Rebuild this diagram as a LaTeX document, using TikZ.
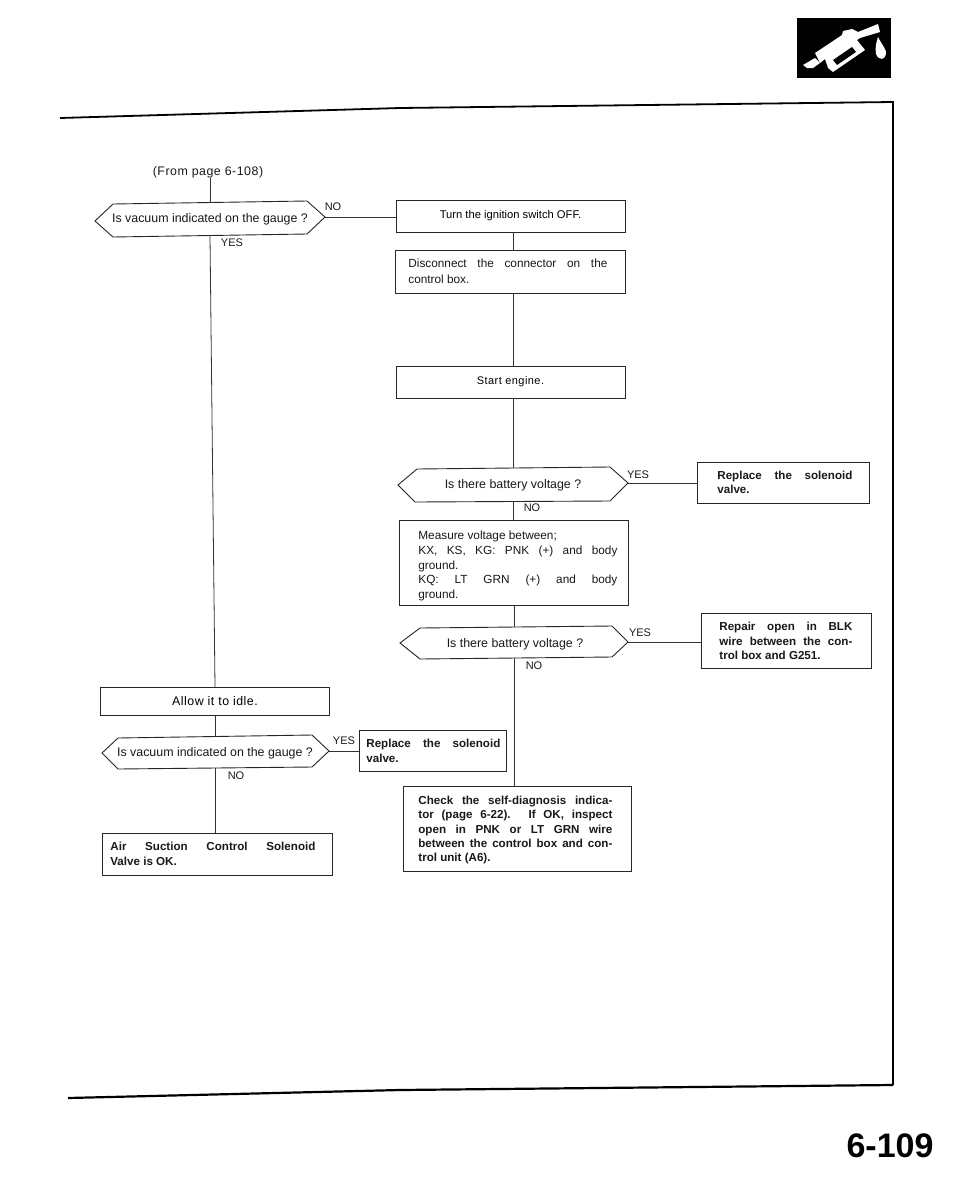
\documentclass[tikz,border=0pt]{standalone}
\usepackage{fontspec}
\setmainfont{Liberation Sans}
\newfontfamily\trk[LetterSpace=4]{Liberation Sans}
\newcommand{\dtxt}{\fontsize{5.9pt}{7.3pt}\selectfont}
\newcommand{\btxt}{\fontsize{5.8pt}{7.2pt}\selectfont\bfseries}
\newcommand{\hextxt}{\fontsize{6.2pt}{7.3pt}\selectfont}
\newcommand{\smtxt}{\fontsize{5.5pt}{7pt}\selectfont}
\newcommand{\turntxt}{\fontsize{5.6pt}{7pt}\selectfont}
\newcommand{\fl}[2]{\makebox[#1][s]{#2}}
\tikzset{
  x=0.5pt,y=-0.5pt,
  flow/.style={draw=black!85,line width=0.45pt,fill=white},
  link/.style={draw=black!80,line width=0.4pt},
  frameline/.style={draw=black,line width=0.9pt},
  lbl/.style={inner sep=0pt,font=\smtxt,text=black!90},
  hexlbl/.style={inner sep=0pt,font=\hextxt,text=black!90},
  trklbl/.style={inner sep=0pt,font=\hextxt\trk,text=black!90},
  boxtext/.style={inner sep=0pt,anchor=west,font=\dtxt,text=black!90,align=left},
  boldtext/.style={inner sep=0pt,anchor=west,font=\btxt,text=black!90,align=left},
}
\begin{document}
\begin{tikzpicture}
\useasboundingbox (0,0) rectangle (960,1200);
% frame
\draw[frameline] (60,118) -- (400,108) -- (893,102) -- (893,1085);
\draw[frameline,line width=1.1pt] (68,1098) -- (400,1090) -- (893,1085);
% icon
\fill[black] (797,18) rectangle (891,78);
\fill[white] (803,65) -- (815,58) -- (820,63) -- (813,68) -- (807,68) -- cycle;
\fill[white] (815,53) -- (842,35) -- (843,31) -- (852,29) -- (858,32) -- (878,24) -- (880,32) -- (860,38) -- (857,40) -- (865,50) -- (833,72) -- (828,68) -- (825,59) -- (820,63) -- cycle;
\fill[black] (833,60) -- (852,47) -- (856,52) -- (837,65) -- cycle;
\fill[white] (878,37) .. controls (882,45) and (887,50) .. (886,54) .. controls (885,60) and (879,61) .. (876,54) .. controls (875,48) and (876,43) .. (878,37) -- cycle;
% shapes
\node[trklbl] (from) at (208,172) {(From page 6-108)};
\coordinate (h1t) at (210,203); \coordinate (h1b) at (210,236); \coordinate (h1r) at (325,217);
\draw[flow] (95,221) -- (113,204) -- (307,201) -- (325,217) -- (307,234) -- (113,237) -- cycle;
\node[hexlbl] (q1) at (210,219) {Is vacuum indicated on the gauge ?};
\node[lbl] at (333,207) {NO};
\node[lbl] at (232,243) {YES};
\node[flow,minimum width=114.5pt,minimum height=16pt,inner sep=0pt,font=\turntxt] (turn) at (510.5,216) {Turn the ignition switch OFF.};
\node[flow,minimum width=115pt,minimum height=21.5pt,inner sep=0pt] (disc) at (510,271.5) {};
\node[boxtext,font=\fontsize{5.9pt}{8pt}\selectfont] at (408,271) {\fl{99.5pt}{Disconnect the connector on the}\\control box.};
\node[flow,minimum width=114.5pt,minimum height=16pt,inner sep=0pt,font=\smtxt\trk] (start) at (510.5,382) {Start engine.};
\coordinate (h2t) at (513,468); \coordinate (h2b) at (513,502); \coordinate (h2r) at (628,483);
\draw[flow] (398,485) -- (417,469) -- (610,467) -- (628,483) -- (610,501) -- (415,502) -- cycle;
\node[hexlbl] at (513,485) {Is there battery voltage ?};
\node[lbl] at (638,475) {YES};
\node[lbl] at (532,508) {NO};
\node[flow,minimum width=86pt,minimum height=20.5pt,inner sep=0pt] (rep1) at (783.5,482.5) {};
\node[boldtext] at (717,482.5) {\fl{67.5pt}{Replace the solenoid}\\valve.};
\node[flow,minimum width=114.5pt,minimum height=42.5pt,inner sep=0pt] (meas) at (513.5,563) {};
\node[boxtext] at (418,566) {Measure voltage between;\\\fl{99.5pt}{KX, KS, KG: PNK (+) and body}\\ground.\\\fl{99.5pt}{KQ: LT GRN (+) and body}\\ground.};
\coordinate (h3t) at (514,627); \coordinate (h3b) at (514,658); \coordinate (h3r) at (628,642);
\draw[flow] (400,643) -- (420,628) -- (612,626) -- (628,642) -- (612,657) -- (420,659) -- cycle;
\node[hexlbl] at (515,644) {Is there battery voltage ?};
\node[lbl] at (640,633) {YES};
\node[lbl] at (534,666) {NO};
\node[flow,minimum width=85pt,minimum height=27.5pt,inner sep=0pt] (rep2) at (786,640.5) {};
\node[boldtext] at (719,641) {\fl{66.5pt}{Repair open in BLK}\\\fl{66.5pt}{wire between the con-}\\trol box and G251.};
\node[flow,minimum width=114.5pt,minimum height=14pt,inner sep=0pt,font=\hextxt\trk] (allow) at (215,701.5) {Allow it to idle.};
\coordinate (h4t) at (215,736); \coordinate (h4b) at (215,768); \coordinate (h4r) at (329,751);
\draw[flow] (102,753) -- (118,738) -- (312,735) -- (329,751) -- (312,767) -- (118,769) -- cycle;
\node[hexlbl] at (215,753) {Is vacuum indicated on the gauge ?};
\node[lbl] at (344,741) {YES};
\node[lbl] at (236,776) {NO};
\node[flow,minimum width=73.5pt,minimum height=20.5pt,inner sep=0pt] (rep3) at (432.5,750.5) {};
\node[boldtext] at (366,751) {\fl{67pt}{Replace the solenoid}\\valve.};
\node[flow,minimum width=115pt,minimum height=21pt,inner sep=0pt] (air) at (217,854) {};
\node[boldtext] at (110,854) {\fl{102.5pt}{Air Suction Control Solenoid}\\Valve is OK.};
\node[flow,minimum width=114pt,minimum height=42.5pt,inner sep=0pt] (check) at (517,829) {};
\node[boldtext] at (418,830) {\fl{97pt}{Check the self-diagnosis indica-}\\\fl{97pt}{tor (page 6-22). If OK, inspect}\\\fl{97pt}{open in PNK or LT GRN wire}\\\fl{97pt}{between the control box and con-}\\trol unit (A6).};
% connectors
\draw[link] (from.south -| h1t) -- (h1t);
\draw[link] (h1b) -- (allow.north);
\draw[link] (allow.south) -- (h4t);
\draw[link] (h4b) -- (h4b |- air.north);
\draw[link] (h1r) -- (turn.west |- h1r);
\draw[link] (turn.south -| h2t) -- (disc.north -| h2t);
\draw[link] (disc.south -| h2t) -- (start.north -| h2t);
\draw[link] (start.south -| h2t) -- (h2t);
\draw[link] (h2b) -- (meas.north -| h2b);
\draw[link] (h2r) -- (rep1.west |- h2r);
\draw[link] (meas.south -| h3t) -- (h3t);
\draw[link] (h3r) -- (rep2.west |- h3r);
\draw[link] (h3b) -- (check.north -| h3b);
\draw[link] (h4r) -- (rep3.west |- h4r);
% page number
\node[inner sep=0pt,font=\fontsize{17pt}{17pt}\selectfont\bfseries] (pg) at (890,1146) {6-109};
\end{tikzpicture}
\end{document}
